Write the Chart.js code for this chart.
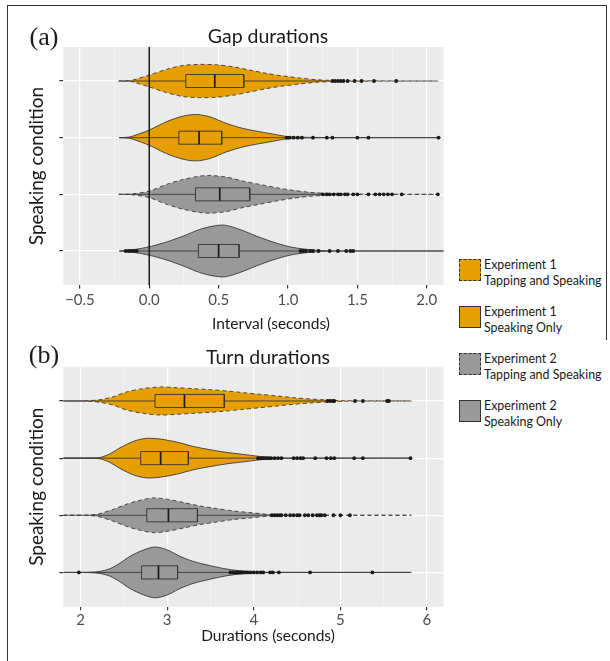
<!DOCTYPE html>
<html><head><meta charset="utf-8">
<script src="https://cdn.jsdelivr.net/npm/chart.js@4.4.0/dist/chart.umd.min.js"></script>
<style>
html,body{margin:0;padding:0;background:#fff;}
#root{position:relative;width:610px;height:661px;overflow:hidden;font-family:Lato,sans-serif;color:#1a1a1a;}
.abs{position:absolute;white-space:nowrap;line-height:1;}
.c{transform:translate(-50%,-50%);}
canvas{position:absolute;left:0;}
.frame{position:absolute;background:#333;}
.key{position:absolute;left:459px;width:22px;height:22px;box-sizing:border-box;border:1px solid #333;}
.key.dash{border:1px dashed #333;}
.lt{position:absolute;left:484px;font-size:12.4px;line-height:15.5px;white-space:nowrap;color:#1a1a1a;}
</style></head><body>
<div id="root">
  <div class="frame" style="left:7px;top:5px;width:600px;height:1px"></div>
  <div class="frame" style="left:7px;top:5px;width:1px;height:656px"></div>
  <div class="frame" style="left:606px;top:5px;width:1px;height:335px"></div>
  <canvas id="ca" width="450" height="340" style="top:0"></canvas>
  <canvas id="cb" width="450" height="331" style="top:330px"></canvas>
  <div class="abs c" style="left:44px;top:37px;font-family:'Liberation Serif',serif;font-size:26px;">(a)</div>
  <div class="abs c" style="left:44px;top:355px;font-family:'Liberation Serif',serif;font-size:26px;">(b)</div>
  <div class="abs c" style="left:268px;top:36px;font-size:19.5px;">Gap durations</div>
  <div class="abs c" style="left:268px;top:357px;font-size:19.5px;">Turn durations</div>
  <div class="abs c" style="left:271px;top:324px;font-size:15.5px;">Interval (seconds)</div>
  <div class="abs c" style="left:268px;top:636px;font-size:15.5px;">Durations (seconds)</div>
  <div id="legend"></div>
</div>
<script>
// ---------------- DATA ----------------
const conditions = [
  ["Experiment 1", "Tapping and Speaking"],
  ["Experiment 1", "Speaking Only"],
  ["Experiment 2", "Tapping and Speaking"],
  ["Experiment 2", "Speaking Only"]
];
const gapTicks = [-0.5, 0, 0.5, 1.0, 1.5, 2.0];
const gapMinorTicks = [-0.25, 0.25, 0.75, 1.25, 1.75];
const turnTicks = [2, 3, 4, 5, 6];
const turnMinorTicks = [2.5, 3.5, 4.5, 5.5];
const gapRange = [-0.62, 2.121];
const turnRange = [1.801, 6.191];
const gapReferenceLine = 0;

// Violin outlines: x (seconds) and half-width (in category units)
const gapViolinX1 = [-0.22, -0.15, -0.117, 0, 0.124, 0.244, 0.364, 0.484, 0.604, 0.724, 0.844, 0.964, 1.084, 1.204, 1.32, 1.5, 1.8, 2.08];
const gapViolinW1 = [0, 0.005, 0.018, 0.105, 0.205, 0.275, 0.293, 0.286, 0.251, 0.193, 0.135, 0.088, 0.053, 0.023, 0.011, 0.004, 0.001, 0];
const gapViolinX2 = [-0.217, -0.15, -0.116, 0, 0.124, 0.244, 0.34, 0.436, 0.556, 0.676, 0.796, 0.916, 0.988, 1.1, 1.3, 2.1];
const gapViolinW2 = [0, 0.009, 0.03, 0.135, 0.281, 0.381, 0.409, 0.368, 0.251, 0.163, 0.105, 0.053, 0.021, 0.007, 0.002, 0];
const gapViolinX3 = [-0.22, -0.12, 0, 0.124, 0.244, 0.364, 0.436, 0.556, 0.676, 0.796, 0.916, 1.036, 1.156, 1.276, 1.4, 1.7, 2.08];
const gapViolinW3 = [0, 0.009, 0.058, 0.175, 0.263, 0.321, 0.333, 0.304, 0.233, 0.175, 0.118, 0.07, 0.035, 0.018, 0.007, 0.002, 0];
const gapViolinX4 = [-0.217, -0.116, 0, 0.124, 0.244, 0.364, 0.46, 0.544, 0.652, 0.772, 0.892, 1.012, 1.132, 1.276, 1.5, 2.15];
const gapViolinW4 = [0, 0.023, 0.075, 0.158, 0.263, 0.381, 0.439, 0.456, 0.381, 0.263, 0.158, 0.075, 0.03, 0.005, 0.001, 0];

const gapQ1 = [0.263, 0.213, 0.333, 0.354];
const gapMedian = [0.472, 0.359, 0.508, 0.5];
const gapQ3 = [0.681, 0.522, 0.724, 0.647];
const gapWhiskerLow = [-0.22, -0.217, -0.22, -0.08];
const gapWhiskerHigh = [1.3, 0.985, 1.3, 1.08];
const gapOutliers1 = [1.32, 1.34, 1.36, 1.38, 1.40, 1.43, 1.48, 1.53, 1.62, 1.78];
const gapOutliers2 = [0.99, 1.01, 1.04, 1.07, 1.1, 1.18, 1.28, 1.32, 1.5, 1.58, 2.085];
const gapOutliers3 = [1.25, 1.28, 1.3, 1.33, 1.36, 1.38, 1.41, 1.43, 1.47, 1.5, 1.58, 1.63, 1.66, 1.69, 1.72, 1.75, 1.82, 2.08];
const gapOutliers4 = [-0.17, -0.15, -0.13, -0.11, -0.09, 1.09, 1.11, 1.13, 1.16, 1.18, 1.22, 1.3, 1.36, 1.42, 1.45, 1.47];

const turnViolinX1 = [1.8, 2.07, 2.225, 2.38, 2.53, 2.72, 2.92, 3.11, 3.30, 3.50, 3.69, 3.88, 4.07, 4.27, 4.46, 4.65, 4.84, 5.03, 5.3, 5.82];
const turnViolinW1 = [0, 0.004, 0.023, 0.075, 0.158, 0.216, 0.246, 0.233, 0.216, 0.198, 0.175, 0.146, 0.118, 0.088, 0.058, 0.035, 0.018, 0.005, 0.002, 0];
const turnViolinX2 = [1.8, 2.13, 2.225, 2.34, 2.456, 2.61, 2.76, 2.92, 3.11, 3.30, 3.50, 3.69, 3.88, 4.07, 4.27, 4.6, 5.82];
const turnViolinW2 = [0, 0.004, 0.012, 0.075, 0.181, 0.293, 0.346, 0.333, 0.281, 0.205, 0.146, 0.1, 0.065, 0.03, 0.007, 0.002, 0];
const turnViolinX3 = [1.8, 2.11, 2.225, 2.38, 2.53, 2.69, 2.84, 3.0, 3.19, 3.38, 3.57, 3.765, 3.96, 4.15, 4.35, 4.8, 5.82];
const turnViolinW3 = [0, 0.004, 0.03, 0.105, 0.193, 0.263, 0.304, 0.281, 0.223, 0.163, 0.118, 0.075, 0.047, 0.018, 0.005, 0.002, 0];
const turnViolinX4 = [1.8, 2.11, 2.225, 2.34, 2.456, 2.57, 2.725, 2.86, 2.995, 3.15, 3.30, 3.50, 3.69, 3.88, 4.1, 4.5, 5.82];
const turnViolinW4 = [0, 0.004, 0.018, 0.065, 0.163, 0.281, 0.391, 0.444, 0.398, 0.281, 0.193, 0.118, 0.058, 0.023, 0.005, 0.002, 0];

const turnQ1 = [2.86, 2.695, 2.765, 2.705];
const turnMedian = [3.2, 2.925, 3.015, 2.9];
const turnQ3 = [3.66, 3.245, 3.35, 3.12];
const turnWhiskerLow = [1.8, 1.8, 1.8, 2.1];
const turnWhiskerHigh = [4.84, 4.05, 4.2, 3.72];
const turnOutliers1 = [4.85, 4.88, 4.91, 4.93, 5.17, 5.26, 5.54, 5.56];
const turnOutliers2 = [4.05, 4.08, 4.11, 4.14, 4.17, 4.2, 4.24, 4.28, 4.32, 4.46, 4.5, 4.54, 4.57, 4.71, 4.84, 4.89, 4.93, 5.16, 5.26, 5.81];
const turnOutliers3 = [4.21, 4.24, 4.27, 4.3, 4.32, 4.37, 4.42, 4.46, 4.5, 4.53, 4.59, 4.63, 4.68, 4.73, 4.76, 4.78, 4.82, 4.92, 5.0, 5.11];
const turnOutliers4 = [1.98, 3.73, 3.76, 3.79, 3.81, 3.83, 3.85, 3.87, 3.9, 3.93, 3.96, 4.0, 4.04, 4.08, 4.11, 4.19, 4.22, 4.29, 4.65, 5.37];

// ---------------- STYLE ----------------
const FILLS = ['#E69F00', '#E69F00', '#999999', '#999999'];
const DASHED = [true, false, true, false];
const EDGE = '#3a3a3a';
const BOX_HALF = 0.115;

Chart.defaults.font.family = 'Lato, sans-serif';

const panelBg = {
  id: 'panelBg',
  beforeDraw(chart) {
    const {ctx, chartArea: a} = chart;
    ctx.save();
    ctx.fillStyle = '#EBEBEB';
    ctx.fillRect(a.left, a.top, a.right - a.left, a.bottom - a.top);
    ctx.restore();
  }
};

function buildDatasets(p) {
  const ds = [];
  for (let k = 0; k < 4; k++) {
    const c = k + 1;
    const xs = p.vx[k], ws = p.vw[k];
    const pts = xs.map((x, i) => ({x: x, y: c - ws[i]}));
    for (let i = xs.length - 2; i >= 0; i--) pts.push({x: xs[i], y: c + ws[i]});
    ds.push({data: pts, fill: 'shape', backgroundColor: FILLS[k], borderColor: EDGE,
      borderWidth: 0.9, borderDash: DASHED[k] ? [4, 3] : [], tension: 0.3, pointRadius: 0});
    ds.push({data: [{x: p.wlo[k], y: c}, {x: p.q1[k], y: c}], borderColor: EDGE, borderWidth: 0.9, pointRadius: 0, fill: false});
    ds.push({data: [{x: p.q3[k], y: c}, {x: p.whi[k], y: c}], borderColor: EDGE, borderWidth: 0.9, pointRadius: 0, fill: false});
    ds.push({data: [{x: p.q1[k], y: c - BOX_HALF}, {x: p.q3[k], y: c - BOX_HALF}, {x: p.q3[k], y: c + BOX_HALF},
      {x: p.q1[k], y: c + BOX_HALF}, {x: p.q1[k], y: c - BOX_HALF}],
      fill: 'shape', backgroundColor: FILLS[k], borderColor: '#333', borderWidth: 0.9, tension: 0, pointRadius: 0,
      borderJoinStyle: 'miter'});
    ds.push({data: [{x: p.med[k], y: c - BOX_HALF}, {x: p.med[k], y: c + BOX_HALF}], borderColor: '#1a1a1a',
      borderWidth: 1.7, pointRadius: 0, fill: false});
    ds.push({data: p.out[k].map(x => ({x: x, y: c})), showLine: false, pointRadius: 1.9,
      pointBackgroundColor: '#1a1a1a', pointBorderWidth: 0, fill: false});
  }
  if (p.ref !== undefined) {
    ds.push({data: [{x: p.ref, y: 0.4}, {x: p.ref, y: 4.6}], borderColor: '#1a1a1a', borderWidth: 1, pointRadius: 0, fill: false});
  }
  ds.forEach((d, i) => { d.order = -i; });
  return ds;
}

function makeChart(id, p) {
  const all = p.major.concat(p.minor).sort((a, b) => a - b);
  const isMajor = v => p.major.some(m => Math.abs(m - v) < 1e-9);
  return new Chart(document.getElementById(id), {
    type: 'line',
    data: {datasets: buildDatasets(p)},
    plugins: [panelBg],
    options: {
      responsive: false, animation: false, devicePixelRatio: 1,
      layout: {padding: {top: p.padTop, right: 6.5, left: 0, bottom: 0}},
      plugins: {legend: {display: false}, tooltip: {enabled: false}, title: {display: false}},
      scales: {
        x: {
          type: 'linear', min: p.range[0], max: p.range[1],
          afterBuildTicks: s => { s.ticks = all.map(v => ({value: v})); },
          afterFit: s => { s.height = p.xHeight; },
          border: {display: false},
          grid: {
            color: ctx => isMajor(ctx.tick.value) ? '#ffffff' : 'rgba(255,255,255,0.55)',
            lineWidth: ctx => isMajor(ctx.tick.value) ? 1.2 : 0.6,
            tickColor: ctx => isMajor(ctx.tick.value) ? '#333333' : 'rgba(0,0,0,0)',
            tickLength: 3.5, drawTicks: true
          },
          ticks: {autoSkip: false, maxRotation: 0, padding: p.tickPad, color: '#4d4d4d', font: {size: 15},
            callback: v => isMajor(v) ? p.fmt(v) : ''}
        },
        y: {
          type: 'linear', min: 0.4, max: 4.6, reverse: true,
          afterBuildTicks: s => { s.ticks = [1, 2, 3, 4].map(v => ({value: v})); },
          afterFit: s => { s.width = 63.3; },
          border: {display: false},
          grid: {color: '#ffffff', lineWidth: 1.2, tickColor: '#333333', tickLength: 4},
          ticks: {display: false},
          title: {display: true, text: 'Speaking condition', color: '#1a1a1a',
            font: {size: 19, lineHeight: 1.2}, padding: {top: 25.6, bottom: 0}}
        }
      }
    }
  });
}

makeChart('ca', {
  vx: [gapViolinX1, gapViolinX2, gapViolinX3, gapViolinX4],
  vw: [gapViolinW1, gapViolinW2, gapViolinW3, gapViolinW4],
  q1: gapQ1, med: gapMedian, q3: gapQ3, wlo: gapWhiskerLow, whi: gapWhiskerHigh,
  out: [gapOutliers1, gapOutliers2, gapOutliers3, gapOutliers4],
  ref: gapReferenceLine,
  major: gapTicks, minor: gapMinorTicks, range: gapRange,
  fmt: v => (v < 0 ? '\u2212' : '') + Math.abs(v).toFixed(1),
  padTop: 47, xHeight: 55, tickPad: 3
});
makeChart('cb', {
  vx: [turnViolinX1, turnViolinX2, turnViolinX3, turnViolinX4],
  vw: [turnViolinW1, turnViolinW2, turnViolinW3, turnViolinW4],
  q1: turnQ1, med: turnMedian, q3: turnQ3, wlo: turnWhiskerLow, whi: turnWhiskerHigh,
  out: [turnOutliers1, turnOutliers2, turnOutliers3, turnOutliers4],
  major: turnTicks, minor: turnMinorTicks, range: turnRange,
  fmt: v => String(v),
  padTop: 36.7, xHeight: 54.3, tickPad: 1
});

// Legend
const legendTops = [259, 306, 353, 400];
const lg = document.getElementById('legend');
conditions.forEach((lines, k) => {
  const key = document.createElement('div');
  key.className = 'key' + (DASHED[k] ? ' dash' : '');
  key.style.top = legendTops[k] + 'px';
  key.style.background = FILLS[k];
  lg.appendChild(key);
  const t = document.createElement('div');
  t.className = 'lt';
  t.style.top = (legendTops[k] - 1.75) + 'px';
  t.innerHTML = lines[0] + '<br>' + lines[1];
  lg.appendChild(t);
});
</script>
</body></html>
